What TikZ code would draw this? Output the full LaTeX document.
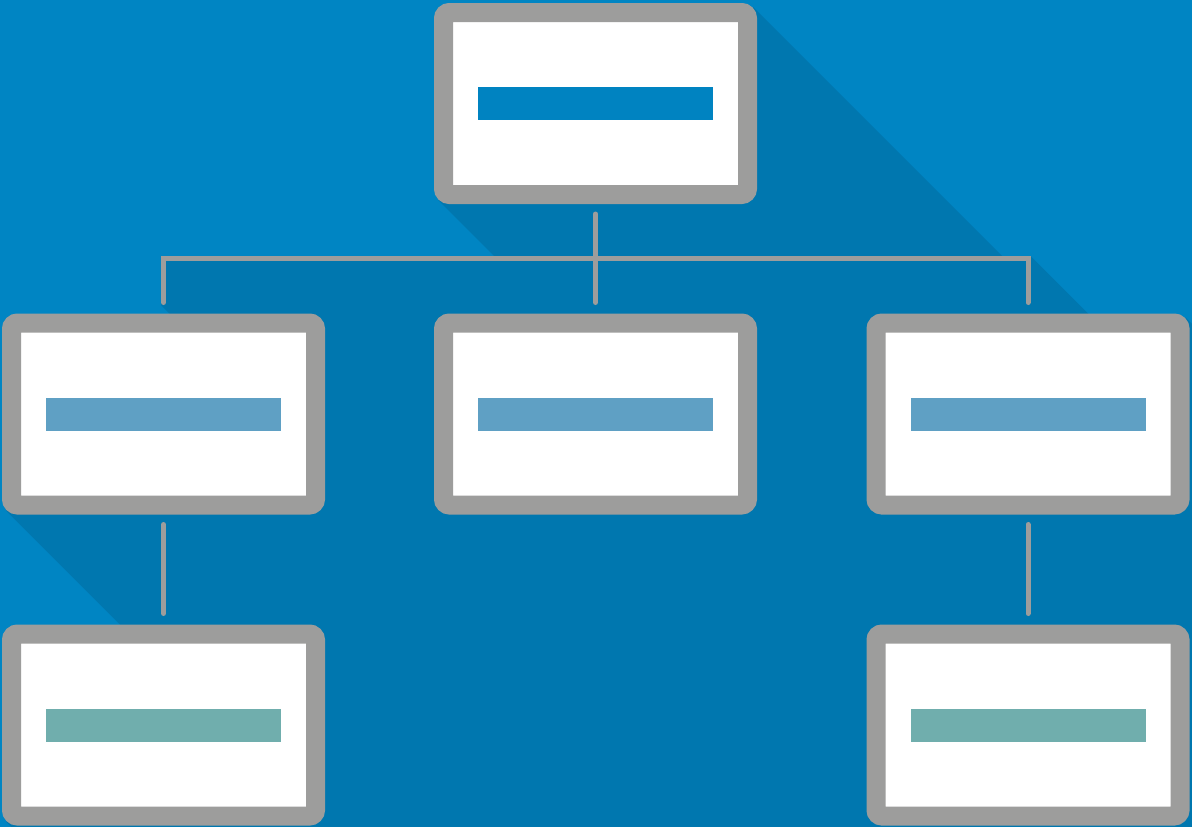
\documentclass[tikz,border=0pt]{standalone}
\usetikzlibrary{calc}
\definecolor{sky}{HTML}{0085C3}
\definecolor{skydark}{HTML}{0077AF}
\definecolor{frame}{HTML}{9D9D9C}
\definecolor{barhead}{HTML}{0083C1}
\definecolor{barmid}{HTML}{5FA0C4}
\definecolor{barlow}{HTML}{70AEAD}
\pgfdeclarelayer{background}
\pgfsetlayers{background,main}
\tikzset{
  card/.style={draw=frame,fill=white,line width=19pt,rounded corners=6pt,
    minimum width=304pt,minimum height=182pt,inner sep=0pt,outer sep=9.5pt},
  bar/.style={fill=#1,minimum width=235pt,minimum height=33pt,inner sep=0pt},
  link/.style={draw=frame,line width=5pt,line cap=round},
}

\begin{document}
\begin{tikzpicture}[x=1pt,y=-1pt]
  \useasboundingbox (0,0) rectangle (1192,827);
  \node[card] at (595.5,103.5) (t0) {};
  \node[card] at (163.5,414) (m1) {};
  \node[card] at (595.5,414) (m2) {};
  \node[card] at (1028,414) (m3) {};
  \node[card] at (163.5,725) (b1) {};
  \node[card] at (1028,725) (b3) {};
  \node[bar=barhead] at (t0) (t0bar) {};
  \foreach \x in {m1,m2,m3} \node[bar=barmid] at (\x) (\x bar) {};
  \foreach \x in {b1,b3} \node[bar=barlow] at (\x) (\x bar) {};
  \coordinate (mid) at ($(t0.south)!.5!(m2.north)$);
  \coordinate (hl) at (m1 |- mid);
  \coordinate (hr) at (m3 |- mid);
  \coordinate (m1top) at ([yshift=11pt]m1.north);
  \coordinate (m3top) at ([yshift=11pt]m3.north);
  \draw[link] ([yshift=-10pt]t0.south) -- ([yshift=11pt]m2.north);
  \draw[link] (m1top) -- (hl) -- (hr) -- (m3top);
  \draw[link] ([yshift=-10pt]m1.south) -- ([yshift=11pt]b1.north);
  \draw[link] ([yshift=-10pt]m3.south) -- ([yshift=11pt]b3.north);
  \begin{pgfonlayer}{background}
    \fill[sky] (0,0) rectangle (1192,827);
    \clip (0,0) rectangle (1192,827);
    % long shadows of the cards
    \foreach \x in {t0,m1,m2,m3,b1,b3}
      \fill[skydark] ([shift={(-4,4)}]\x.north east) -- ++(900,900)
        -- ([shift={(904,896)}]\x.south west) -- ([shift={(4,-4)}]\x.south west) -- cycle;
    % long shadows of the links
    \foreach \a/\b in {hr/hl,hl/m1top,hr/m3top}
      \fill[skydark] ([shift={(2.5,-2.5)}]\a) -- ++(900,900)
        -- ([shift={(897.5,902.5)}]\b) -- ([shift={(-2.5,2.5)}]\b) -- cycle;
  \end{pgfonlayer}
\end{tikzpicture}
\end{document}
